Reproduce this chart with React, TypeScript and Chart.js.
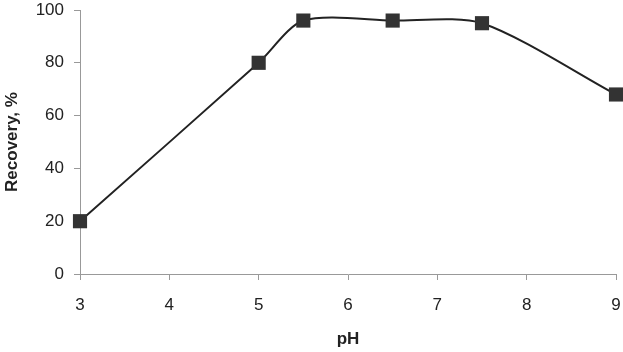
import React, { useEffect, useRef } from "react";
import { Chart, registerables } from "chart.js";

Chart.register(...registerables);

const phValues = [3, 5, 5.5, 6.5, 7.5, 9];
const recovery = [20, 80, 96, 96, 95, 68];
const xTitle = "pH";
const yTitle = "Recovery, %";

export default function App() {
  const ref = useRef<HTMLCanvasElement | null>(null);
  useEffect(() => {
    document.body.style.margin = "0";
    const ctx = ref.current!;
    const font = { family: "'Liberation Sans', Arial, sans-serif", size: 17 };
    const chart = new Chart(ctx, {
      type: "line",
      data: {
        datasets: [
          {
            data: phValues.map((x, i) => ({ x, y: recovery[i] })),
            borderColor: "#222222",
            borderWidth: 2,
            tension: 0.27,
            clip: false,
            pointStyle: "rect",
            pointRadius: 10,
            pointBackgroundColor: "#333333",
            pointBorderColor: "#333333",
            pointBorderWidth: 0,
          },
        ],
      },
      options: {
        responsive: false,
        animation: false,
        layout: { autoPadding: false, padding: { top: 10, right: 7, left: 0, bottom: 0 } },
        plugins: { legend: { display: false }, tooltip: { enabled: false } },
        scales: {
          x: {
            type: "linear",
            min: 3,
            max: 9,
            ticks: { stepSize: 1, color: "#222", font, padding: 15 },
            grid: { drawOnChartArea: false, color: "#999", tickLength: 6 },
            border: { color: "#999", width: 1 },
            title: {
              display: true,
              text: xTitle,
              color: "#222",
              font: { ...font, weight: "bold" },
              padding: { top: 10, bottom: 2 },
            },
            afterFit: (s: any) => {
              s.height = 78;
              s.paddingLeft = 0;
              s.paddingRight = 0;
            },
          },
          y: {
            min: 0,
            max: 100,
            ticks: { stepSize: 20, color: "#222", font, padding: 10 },
            grid: { drawOnChartArea: false, color: "#999", tickLength: 6 },
            border: { color: "#999", width: 1 },
            title: {
              display: true,
              text: yTitle,
              color: "#222",
              font: { ...font, weight: "bold" },
              padding: { top: 2, bottom: 4 },
            },
            afterFit: (s: any) => {
              s.width = 80;
              s.paddingTop = 0;
              s.paddingBottom = 0;
            },
          },
        },
      },
    });
    return () => chart.destroy();
  }, []);
  return (
    <div style={{ width: 623, height: 352 }}>
      <canvas ref={ref} width={623} height={352} />
    </div>
  );
}
